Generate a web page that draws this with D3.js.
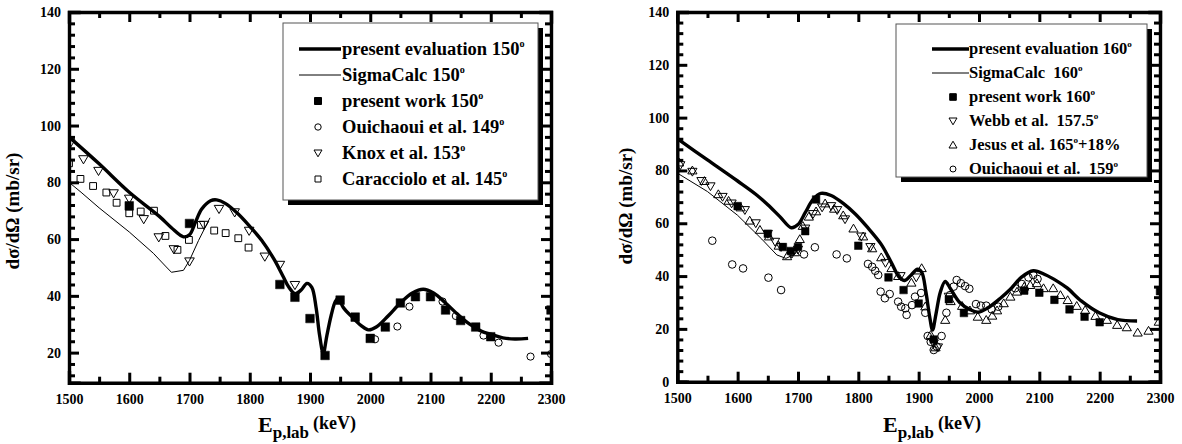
<!DOCTYPE html>
<html>
<head>
<meta charset="utf-8">
<title>Cross sections 150 / 160 deg</title>
<style>
  body { margin: 0; background: #fff; }
  svg text { font-family: "Liberation Serif", "Times New Roman", "DejaVu Serif", serif; font-weight: bold; fill: #000; }
</style>
</head>
<body>
<svg id="canvas" width="1182" height="444"></svg>
<script src="https://cdn.jsdelivr.net/npm/d3@7"></script>
<script>
// tick labels
let xTicks = [1500, 1600, 1700, 1800, 1900, 2000, 2100, 2200, 2300];
let yTicksA = [20, 40, 60, 80, 100, 120, 140];
let yTicksB = [0, 20, 40, 60, 80, 100, 120, 140];

// ---- left panel, 150 deg  [E (keV), dsigma/dOmega (mb/sr)] ----
let evalA = [[1500,96],[1550,86.5],[1600,76.5],[1650,68],[1670,64],[1690,60.8],[1700,61.5],[1710,66],
  [1720,70.5],[1735,73.5],[1745,73.8],[1760,72.5],[1780,69],[1800,64.5],[1820,59.5],[1840,53],[1855,47],
  [1865,43],[1875,40.8],[1885,42],[1895,44.4],[1903,43],[1910,36],[1916,26],[1922,19.8],[1928,26],
  [1935,33],[1942,38],[1947,39.2],[1955,36],[1970,32.5],[1985,29.5],[1997,28],[2010,29],[2030,33],
  [2050,37.5],[2070,41],[2088,42.3],[2105,41],[2125,37.5],[2145,33.5],[2165,30],[2185,27.5],[2200,26.5],
  [2220,25.2],[2240,24.8],[2262,25]];
let calcA = [[1500,80],[1520,76.5],[1550,71],[1600,62.5],[1640,55],[1660,50.5],[1670,48.3],[1690,49],
  [1700,52.5],[1715,59.5],[1734,67.5]];
let workA = [[1600,71.7],[1700,65.5],[1850,44],[1875,39.5],[1900,32],[1925,19],[1950,38.5],[1975,32.5],
  [2000,25],[2025,29],[2050,37.5],[2075,39.7],[2100,39.7],[2125,35],[2150,31.3],[2175,29],[2200,25.6],[2300,35]];
let ouiA = [[2008,24.7],[2045,29.2],[2065,36.2],[2120,38],[2142,32.9],[2188,26],[2213,23.5],[2266,18.6],[2300,19.5]];
let knoxA = [[1502,93.7],[1524,88.1],[1549,84],[1574,76.1],[1600,74.2],[1624,67],[1649,60.6],[1674,56.4],
  [1700,52.1],[1724,65],[1749,70.6],[1775,69.4],[1799,62.9],[1825,53.8],[1850,50.9],[1875,43.8]];
let caraA = [[1500,86.7],[1519,81.2],[1540,78.7],[1562,76.4],[1579,72.8],[1600,69.1],[1619,69.7],[1641,70],
  [1660,61.1],[1680,56.2],[1699,59.7],[1719,65],[1741,63],[1760,62.1],[1781,60.3],[1798,57]];

// ---- right panel, 160 deg ----
let evalB = [[1500,92],[1550,84],[1600,76],[1630,71],[1650,67],[1670,62.5],[1689,58.3],[1700,59.5],[1712,64],
  [1725,69],[1738,71.3],[1755,70.5],[1775,67.5],[1795,63.5],[1815,58.5],[1838,52],[1855,45],[1868,39.5],
  [1877,38.3],[1888,40.5],[1898,42.6],[1905,41.5],[1912,34],[1918,25],[1923,19.6],[1929,26],[1936,34],
  [1944,38],[1952,35.5],[1968,30],[1985,27.3],[1999,26.3],[2015,28],[2035,31.5],[2052,35],[2070,39.5],
  [2090,42],[2110,40.5],[2130,38],[2146,35.5],[2170,30.5],[2200,26],[2230,23.5],[2262,23]];
let calcB = [[1500,79],[1550,72],[1600,63],[1640,54],[1665,48],[1680,46.7],[1695,48.3],[1705,52]];
let workB = [[1600,66.5],[1650,56],[1675,51],[1688,49.5],[1700,51],[1712,57],[1730,69],[1800,51.5],[1850,39.5],
  [1875,34.7],[1900,29.6],[1925,16],[1950,31.2],[1975,26],[2075,34.5],[2100,33.7],[2125,31],[2150,27.4],
  [2175,24.6],[2200,22.5],[2300,34.3]];
let webbB = [[1505,82],[1525,79.5],[1540,76],[1555,74],[1575,70],[1590,67.5],[1612,65],[1630,60],[1650,56],
  [1662,53],[1672,51],[1690,48.5],[1700,50],[1712,58],[1725,63.5],[1740,66],[1755,66.5],[1765,65],[1778,61.5],
  [1805,55],[1820,51],[1845,45],[1870,40],[1896,39.5],[1925,14.5],[1932,13],[1950,32.2]];
let jesusB = [[1503,83],[1525,80],[1545,76],[1568,71],[1585,68.5],[1605,66],[1620,61],[1637,57.5],[1652,55],
  [1668,51.5],[1682,47.5],[1695,49],[1703,54],[1708,59],[1718,62.5],[1730,64.5],[1745,67.5],[1760,65.5],
  [1775,63],[1792,58],[1808,55],[1823,50.5],[1838,47.1],[1855,43],[1866,40],[1888,37.5],[1905,43],[1911,28.5],
  [1920,17.7],[1928,13],[1944,23.4],[1953,30.5],[1972,28.7],[1985,27],[1998,24.6],[2012,23.4],[2022,25],
  [2030,27],[2041,29.7],[2052,32.2],[2063,34.1],[2075,36],[2085,36.6],[2096,37.3],[2107,35.4],[2123,35.4],
  [2135,32.8],[2147,30.9],[2162,28.7],[2176,27.1],[2193,24.9],[2212,23.4],[2229,21.5],[2245,20.6],[2263,18.6],
  [2281,19.3],[2298,22.7]];
let ouiB = [[1558,53.4],[1591,44.4],[1609,42.9],[1651,39.4],[1672,34.7],[1710,48.2],[1728,50.9],[1764,48.2],
  [1781,46.7],[1816,44.6],[1823,43.5],[1828,42],[1833,40.4],[1837,34.1],[1844,31.6],[1852,33.2],[1866,30.3],
  [1871,28.4],[1878,27.8],[1880,25.3],[1889,29],[1894,32.2],[1904,33.6],[1911,26.1],[1915,17.3],[1920,15.1],
  [1925,12],[1930,13.3],[1938,17.3],[1946,26.1],[1952,32.8],[1958,36],[1963,38.5],[1970,37.3],[1977,36.2],
  [1984,35.2],[1995,29.4],[2003,28.8],[2012,28.8],[2021,27.4],[2032,28.4],[2060,35.4],[2071,37],[2082,39.5],
  [2090,40.4],[2097,38.9]];

let legendA = ["present evaluation 150", "SigmaCalc 150", "present work 150", "Ouichaoui et al. 149", "Knox et al. 153", "Caracciolo et al. 145"];
let legendB = ["present evaluation 160", "SigmaCalc  160", "present work 160", "Webb et al.  157.5", "Jesus et al. 165", "Ouichaoui et al.  159"];

let serif = '"Liberation Serif", "Times New Roman", "DejaVu Serif", serif';
let svg = d3.select("#canvas");

function shape(type, s) {
  if (type === "sqFill" || type === "sqOpen")
    return "M" + (-s) + "," + (-s) + "h" + 2 * s + "v" + 2 * s + "h" + (-2 * s) + "Z";
  if (type === "triDown")
    return "M" + (-s) + "," + (-0.75 * s) + "L" + s + "," + (-0.75 * s) + "L0," + (0.95 * s) + "Z";
  if (type === "triUp")
    return "M" + (-s) + "," + (0.75 * s) + "L" + s + "," + (0.75 * s) + "L0," + (-0.95 * s) + "Z";
  // circle
  return "M" + (-s) + ",0a" + s + "," + s + " 0 1,0 " + 2 * s + ",0a" + s + "," + s + " 0 1,0 " + (-2 * s) + ",0Z";
}

function drawPanel(p) {
  let x = d3.scaleLinear().domain([1500, 2300]).range([p.left, p.right]);
  let y = d3.scaleLinear().domain(p.yDomain).range([p.bottom, p.top]);

  let clipId = "clip" + p.id;
  svg.append("clipPath").attr("id", clipId).append("rect")
    .attr("x", p.left).attr("y", p.top)
    .attr("width", p.right - p.left).attr("height", p.bottom - p.top);

  let g = svg.append("g");
  let plot = g.append("g").attr("clip-path", "url(#" + clipId + ")");

  // markers
  p.points.forEach(function(s) {
    plot.append("g").selectAll("path").data(s.data).enter().append("path")
      .attr("transform", d => "translate(" + x(d[0]) + "," + y(d[1]) + ")")
      .attr("d", shape(s.type, s.size))
      .attr("fill", s.type === "sqFill" ? "#000" : "none")
      .attr("stroke", "#000")
      .attr("stroke-width", s.type === "sqFill" ? 0.5 : 1);
  });

  // curves
  let smooth = d3.line().x(d => x(d[0])).y(d => y(d[1])).curve(d3.curveCatmullRom.alpha(0.5));
  let straight = d3.line().x(d => x(d[0])).y(d => y(d[1]));
  plot.append("path").datum(p.calc).attr("d", straight)
    .attr("fill", "none").attr("stroke", "#000").attr("stroke-width", 1);
  plot.append("path").datum(p.eval).attr("d", smooth)
    .attr("fill", "none").attr("stroke", "#000").attr("stroke-width", 3.4);

  // axes
  let minorX = d3.range(1550, 2300, 100);
  let minorY = d3.range(p.yDomain[0] <= 0 ? 0 : 12, 141, 4).filter(v => v % 20 !== 0);

  function axisPair(axis, scale, majors, minors, tr, labels, pad) {
    let a = g.append("g").attr("transform", tr)
      .call(axis(scale).tickValues(majors).tickSize(-10).tickPadding(pad)
        .tickFormat(labels ? d3.format("d") : ""));
    let b = g.append("g").attr("transform", tr)
      .call(axis(scale).tickValues(minors).tickSize(-6).tickFormat(""));
    b.select(".domain").remove();
    [a, b].forEach(s => {
      s.attr("font-family", serif).attr("font-weight", "bold");
      s.selectAll(".tick line").attr("stroke", "#000").attr("stroke-width", 3);
      s.selectAll(".tick text").style("font-size", "14px").attr("fill", "#000");
    });
    a.select(".domain").attr("stroke", "#000").attr("stroke-width", 3.4).attr("stroke-linecap", "square");
  }
  axisPair(d3.axisBottom, x, xTicks, minorX, "translate(0," + p.bottom + ")", true, 11);
  axisPair(d3.axisTop, x, xTicks, minorX, "translate(0," + p.top + ")", false, 0);
  axisPair(d3.axisLeft, y, p.yTicks, minorY, "translate(" + p.left + ",0)", true, 8);
  axisPair(d3.axisRight, y, p.yTicks, minorY, "translate(" + p.right + ",0)", false, 0);

  // axis titles
  g.append("text")
    .attr("transform", "translate(" + p.yTitleX + "," + p.yTitleY + ") rotate(-90)")
    .attr("text-anchor", "middle").style("font-size", "19px")
    .text("dσ/dΩ (mb/sr)");
  let xt = g.append("text").attr("x", p.xTitleX).attr("y", 432);
  xt.append("tspan").style("font-size", "22px").text("E");
  xt.append("tspan").style("font-size", "17px").attr("dy", 6).text("p,lab");
  xt.append("tspan").style("font-size", "18px").attr("dy", -9).attr("dx", 4).text("(keV)");

  // legend
  let L = p.legend;
  g.append("rect").attr("x", L.x + 5).attr("y", L.y + 5).attr("width", L.w).attr("height", L.h).attr("fill", "#000");
  g.append("rect").attr("x", L.x).attr("y", L.y).attr("width", L.w).attr("height", L.h)
    .attr("fill", "#fff").attr("stroke", "#555").attr("stroke-width", 1);

  let entries = [{kind: "line", w: 3.6}, {kind: "line", w: 1}].concat(p.points);
  entries.forEach(function(e, i) {
    let cy = L.row0 + i * L.dy;
    if (e.kind === "line") {
      g.append("line").attr("x1", L.lineX0).attr("x2", L.lineX1).attr("y1", cy).attr("y2", cy)
        .attr("stroke", "#000").attr("stroke-width", e.w);
    } else {
      g.append("path").attr("transform", "translate(" + L.markX + "," + cy + ")")
        .attr("d", shape(e.type, e.legendSize))
        .attr("fill", e.type === "sqFill" ? "#000" : "none")
        .attr("stroke", "#000").attr("stroke-width", 1);
    }
    let t = g.append("text").attr("x", L.textX).attr("y", cy + L.fs * 0.32)
      .style("font-size", L.fs + "px").style("white-space", "pre");
    t.append("tspan").text(p.labels[i]);
    t.append("tspan").attr("dy", -L.fs * 0.45).style("font-size", (L.fs * 0.55) + "px").text("o");
    if (p.labels[i].indexOf("Jesus") === 0) {
      t.append("tspan").attr("dy", L.fs * 0.45).text("+18%");
    }
  });
}

drawPanel({
  id: "A", left: 69, right: 551, top: 12, bottom: 382.7, yDomain: [9.4, 140], yTicks: yTicksA,
  eval: evalA, calc: calcA,
  points: [
    {type: "sqFill", size: 4.3, legendSize: 3.5, data: workA},
    {type: "circle", size: 3.6, legendSize: 3.2, data: ouiA},
    {type: "triDown", size: 4.8, legendSize: 4, data: knoxA},
    {type: "sqOpen", size: 3.4, legendSize: 3, data: caraA}
  ],
  labels: legendA,
  yTitleX: 19, yTitleY: 211, xTitleX: 258,
  legend: {x: 283, y: 23, w: 255, h: 177, row0: 49, dy: 26, lineX0: 299, lineX1: 341, markX: 318, textX: 342, fs: 18.5}
});

drawPanel({
  id: "B", left: 677.3, right: 1160, top: 12, bottom: 381.7, yDomain: [0, 140], yTicks: yTicksB,
  eval: evalB, calc: calcB,
  points: [
    {type: "sqFill", size: 3.8, legendSize: 3.3, data: workB},
    {type: "triDown", size: 4.6, legendSize: 4, data: webbB},
    {type: "triUp", size: 4.6, legendSize: 4, data: jesusB},
    {type: "circle", size: 3.8, legendSize: 3, data: ouiB}
  ],
  labels: legendB,
  yTitleX: 632, yTitleY: 206, xTitleX: 883,
  legend: {x: 896, y: 24, w: 251, h: 153, row0: 49, dy: 24, lineX0: 932, lineX1: 969, markX: 953, textX: 969, fs: 16.5}
});
</script>
</body>
</html>
